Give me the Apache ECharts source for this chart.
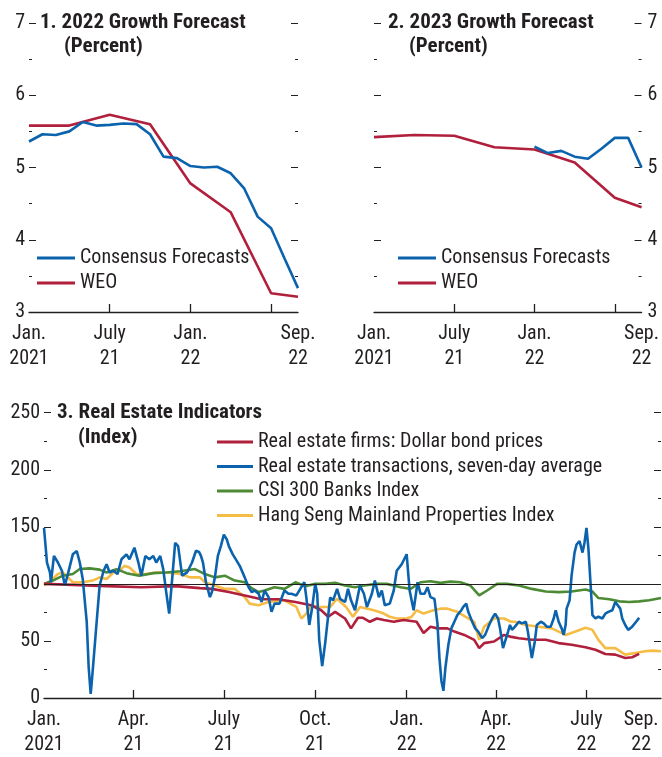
<!DOCTYPE html>
<html>
<head>
<meta charset="utf-8">
<script src="https://cdn.jsdelivr.net/npm/echarts@6/dist/echarts.min.js"></script>
<style>
  html, body { margin: 0; padding: 0; background: #fff; }
  #main { width: 662px; height: 757px; }
</style>
</head>
<body>
<div id="main"></div>
<script>
// panels 1-2: monthly, Jan 2021 (0) .. Sep 2022 (20)
const cons22 = [5.36, 5.46, 5.45, 5.50, 5.63, 5.58, 5.59, 5.61, 5.60, 5.46, 5.15, 5.13, 5.02, 5.00, 5.01, 4.92, 4.71, 4.32, 4.16, 3.74, 3.33]
const weo22 = [5.58, null, null, 5.58, null, null, 5.73, null, null, 5.60, null, null, 4.78, null, null, 4.38, null, null, 3.26, null, 3.21]
const cons23 = [null, null, null, null, null, null, null, null, null, null, null, null, 5.29, 5.20, 5.23, 5.15, 5.12, 5.26, 5.41, 5.41, 5.00]
const weo23 = [5.42, null, null, 5.45, null, null, 5.44, null, null, 5.28, null, null, 5.25, null, null, 5.07, null, null, 4.58, null, 4.45]
const growthLabelPos = [0, 6, 12, 20]
const growthLabelText = ['Jan.\n2021', 'July\n21', 'Jan.\n22', 'Sep.\n22']
const growthTickPos = [6, 12, 18]

// panel 3: days since 1 Jan 2021
const redDays = [0, 29, 63, 98, 132, 157, 169, 186, 202, 219, 236, 253, 269, 279, 286, 293, 303, 309, 316, 321, 328, 335, 342, 352, 362, 375, 382, 389, 396, 406, 413, 423, 433, 438, 443, 453, 463, 469, 478, 491, 505, 518, 531, 545, 555, 565, 575, 585, 592, 599]
const redVals = [100, 99.1, 98, 97.1, 98, 96.3, 95.6, 92.8, 89.9, 86.5, 86.5, 84.1, 81.3, 76.9, 71.2, 75.5, 69.7, 61, 70.3, 70.3, 66.8, 69.7, 68.3, 66.8, 68.3, 66.8, 57, 62.5, 61, 61, 58.2, 55.3, 51, 43.7, 48.1, 49.5, 55.3, 53.8, 52.4, 51, 51, 48.1, 46.7, 44.4, 42.3, 38.6, 38, 35.1, 35.7, 38.6]

const blueDays = [0, 1, 3, 6, 7, 10, 14, 18, 21, 24, 29, 33, 36, 39, 43, 45, 47, 49, 53, 56, 60, 63, 66, 70, 74, 78, 83, 86, 91, 95, 98, 102, 106, 110, 113, 117, 120, 123, 126, 129, 132, 135, 139, 144, 149, 153, 156, 158, 160, 163, 165, 167, 169, 172, 175, 178, 181, 184, 186, 190, 194, 197,
  199, 202, 206, 209, 212, 216, 219, 222, 226, 229, 232, 237, 242, 246, 249, 254, 259, 262, 264, 267, 270, 273, 275, 277, 280, 283, 288, 291, 295, 298, 303, 306, 309, 313, 318, 322, 325, 330, 333, 337, 340, 343, 348, 352, 355, 360, 365, 368, 372, 376, 379, 383, 386, 389, 393, 396, 398, 400, 402,
  404, 407, 410, 413, 416, 420, 422, 425, 427, 431, 434, 437, 441, 444, 448, 451, 454, 457, 459, 462, 464, 467, 469, 471, 474, 478, 481, 485, 487, 490, 491, 494, 496, 500, 503, 506, 510, 513, 515, 518, 521, 523, 525, 526, 529, 531, 534, 536, 539, 542, 544, 546, 548, 550, 552, 555, 558, 562, 565, 568, 572, 575, 577, 580, 582, 585, 588, 592, 596, 599]
const blueVals = [149, 139, 118.7, 110, 101.4, 124.5, 118.7, 111.5, 98.6, 108.6, 125.9, 128.8, 118.7, 104.3, 66.8, 26.5, 3.5, 23.6, 66.8, 98.6, 111.5, 117.2, 110, 111.5, 108.6, 121.6, 125.9, 121.6, 131.7, 118.7, 107.2, 124.5, 121.6, 124.5, 118.7, 124.5, 112.9, 92.8, 74, 104.3, 136, 133.1, 107.2, 110, 118.7, 129, 128, 124.5, 118.7, 101.4, 100, 88.4, 92.8, 105.7, 124.5, 133.1, 143.2, 138.9, 133.1, 125.9, 120.2, 115.8,
  114.4, 105.7, 97, 92.8, 94.2, 91.3, 84.1, 94.2, 88.4, 75.5, 82.7, 82.7, 94.2, 91.3, 91.3, 89.9, 97.1, 101.4, 88.4, 64, 79.8, 100, 91.3, 51, 27.9, 48.1, 88, 85.6, 95.6, 86.9, 84.1, 95.6, 85.6, 76.9, 98.6, 91.3, 79.8, 91.3, 102.9, 88.4, 94.2, 81.3, 82.7, 94.2, 111.5, 117.2, 126, 94.2, 76.9, 101.4, 91.3, 91.3, 97.1, 88.4, 86.9, 65.4, 35, 15, 6.3,
  26.5, 46.7, 61, 66.8, 72.6, 76.9, 79.8, 82.7, 75.5, 66.8, 61, 58.2, 52.4, 55.3, 64, 69.7, 74, 69.7, 61, 43.7, 44, 58, 64, 59.7, 62.5, 66.8, 65.4, 66.8, 58.2, 40.9, 35.1, 49.5, 64, 66.8, 65.4, 62.5, 62.5, 69.7, 76.9, 66.8, 61, 55.3, 64, 78.3, 85.6, 107.2, 127.4, 134.5, 137.5, 127.4, 136, 149, 130.2, 101.4, 72.6, 69.7, 71.2, 69.7, 74, 75.5, 76.9, 84.1, 85.6, 78.3, 69.7, 64, 59.7, 62.5, 66.8, 70.3]

const greenDays = [0, 9, 19, 29, 36, 46, 56, 63, 73, 83, 96, 110, 123, 137, 152, 162, 172, 182, 192, 202, 209, 216, 222, 232, 242, 253, 263, 273, 283, 293, 303, 313, 322, 335, 345, 359, 369, 379, 389, 399, 409, 419, 429, 438, 446, 456, 466, 478, 491, 505, 518, 531, 545, 552, 558, 569, 579, 589, 599, 609, 621]
const greenVals = [100, 102.9, 107.2, 108.6, 113, 113.6, 112.5, 110, 112.9, 109.4, 107.2, 109.4, 110, 111, 113, 108.6, 105.7, 107.2, 102.9, 101.4, 96.2, 92.8, 94.2, 97.1, 95.6, 101.4, 98, 100, 100, 100.9, 98.6, 97.1, 98.6, 100, 100, 97.1, 95.6, 101.4, 102.3, 100.9, 102, 101.4, 98.6, 89.9, 94.2, 100, 100, 98.6, 95.6, 93.3, 92.8, 93.3, 95, 93.3, 87.6, 86.5, 84.7, 84.1, 84.7, 85.6, 87.6]

const yellowDays = [0, 2, 7, 14, 19, 24, 29, 39, 49, 56, 63, 70, 76, 81, 86, 93, 103, 113, 123, 137, 147, 157, 162, 172, 182, 192, 202, 207, 216, 226, 242, 254, 259, 264, 269, 276, 288, 295, 304, 311, 318, 332, 342, 348, 355, 365, 370, 375, 382, 392, 399, 406, 416, 427, 433, 438, 443, 453, 463, 470, 474, 485, 498, 511, 525, 535, 545, 552, 558, 565, 575, 585, 595, 605, 612, 621]
const yellowVals = [98.6, 97.1, 102.9, 108.6, 110, 105.7, 101.4, 101.4, 102.9, 105.7, 104.3, 110, 111.5, 115.8, 114.4, 108.6, 108.6, 110, 110, 108.6, 105.7, 105.7, 101.4, 98.6, 95.6, 95.6, 88.4, 82.7, 81.3, 84.1, 85.6, 79.8, 69.7, 74, 81.3, 79.8, 79.8, 87, 79.8, 71.2, 79.8, 76.9, 74, 71.2, 69.7, 69.7, 71.2, 76.9, 74, 76.9, 78.3, 78.3, 75.5, 69.7, 66.8, 51, 62.5, 69.7, 69.7, 66.8, 66.8, 64, 62.5, 61, 55.3, 58.2, 61.6, 59.7, 51, 43.7, 43.7, 38, 39.5, 40.9, 41.5, 40.9]

const reLabelPos = [0, 90, 181, 273, 365, 455, 546, 601]
const reLabelText = ['Jan.\n2021', 'Apr.\n21', 'July\n21', 'Oct.\n21', 'Jan.\n22', 'Apr.\n22', 'July\n22', 'Sep.\n22']
const reTickPos = [90, 181, 273, 365, 455, 546]

const FONT = "'Roboto Condensed', 'Liberation Sans', sans-serif"
const INK = '#231f20'
const BLUE = '#0b63ad'
const RED = '#b01f3b'
const GREEN = '#4d8a34'
const YELLOW = '#f5bd45'

var myChart = echarts.init(document.getElementById('main'))

function pairs(xs, ys) {
  return ys.map((v, i) => [xs ? xs[i] : i, v])
}

function xAxisCfg(gridIndex, max, tickPos, labelPos, labelText) {
  return {
    type: 'value', gridIndex: gridIndex, min: 0, max: max,
    splitLine: { show: false },
    axisLine: { show: true, onZero: false, lineStyle: { color: INK, width: 1.3 } },
    axisTick: { show: true, inside: true, length: 8, customValues: tickPos, lineStyle: { color: INK, width: 1.3 } },
    axisLabel: {
      customValues: labelPos, margin: 9,
      fontFamily: FONT, fontSize: 20, lineHeight: 25, color: INK,
      formatter: v => labelText[labelPos.indexOf(v)] || ''
    }
  }
}

function yAxisCfg(gridIndex, pos, max, interval, showLabel) {
  return {
    type: 'value', gridIndex: gridIndex, position: pos,
    min: max === 7 ? 3 : 0, max: max, interval: interval,
    splitLine: { show: false },
    axisLine: { show: false },
    axisTick: { show: true, inside: true, length: 7, lineStyle: { color: INK, width: 1 } },
    minorTick: { show: true, splitNumber: 2, length: 3, lineStyle: { color: INK, width: 1 } },
    axisLabel: { show: showLabel, margin: pos === 'left' ? 4 : 6, fontFamily: FONT, fontSize: 20, color: INK }
  }
}

function lineSeries(name, x, y, data, color, extra) {
  return Object.assign({
    name: name, type: 'line', xAxisIndex: x, yAxisIndex: y,
    data: data, symbol: 'none', connectNulls: true,
    lineStyle: { color: color, width: 2.6 }, itemStyle: { color: color },
    silent: true, animation: false
  }, extra || {})
}

const titleStyle = { fontFamily: FONT, fontSize: 21, fontWeight: 'bold', color: INK, lineHeight: 22 }
const legendBase = {
  orient: 'vertical', icon: 'rect', itemWidth: 38, itemHeight: 3, itemGap: 3,
  selectedMode: false, padding: 0,
  textStyle: { fontFamily: FONT, fontSize: 20, lineHeight: 22, color: INK }
}

const option = {
  animation: false,
  title: [
    { text: '1. 2022 Growth Forecast', left: 40, top: 12, padding: 0, textStyle: titleStyle },
    { text: '(Percent)', left: 64, top: 36, padding: 0, textStyle: titleStyle },
    { text: '2. 2023 Growth Forecast', left: 388, top: 12, padding: 0, textStyle: titleStyle },
    { text: '(Percent)', left: 409, top: 36, padding: 0, textStyle: titleStyle },
    { text: '3. Real Estate Indicators', left: 57, top: 402, padding: 0, textStyle: titleStyle },
    { text: '(Index)', left: 78, top: 427, padding: 0, textStyle: titleStyle }
  ],
  legend: [
    Object.assign({ left: 37, top: 247, data: ['Consensus Forecasts', 'WEO'] }, legendBase),
    Object.assign({ left: 398, top: 247, data: ['Consensus Forecasts', 'WEO'] }, legendBase),
    Object.assign({}, legendBase, {
      left: 217, top: 431, itemWidth: 36, itemGap: 2.5,
      data: ['Real estate firms: Dollar bond prices', 'Real estate transactions, seven-day average',
        'CSI 300 Banks Index', 'Hang Seng Mainland Properties Index']
    })
  ],
  grid: [
    { left: 29, top: 23, width: 269, height: 289 },
    { left: 374, top: 23, width: 269, height: 289 },
    { left: 44, top: 412.7, width: 617, height: 289.6 }
  ],
  xAxis: [
    xAxisCfg(0, 20, growthTickPos, growthLabelPos, growthLabelText),
    xAxisCfg(1, 20, growthTickPos, growthLabelPos, growthLabelText),
    xAxisCfg(2, 621, reTickPos, reLabelPos, reLabelText)
  ],
  yAxis: [
    yAxisCfg(0, 'left', 7, 1, true),
    yAxisCfg(0, 'right', 7, 1, false),
    yAxisCfg(1, 'left', 7, 1, false),
    yAxisCfg(1, 'right', 7, 1, true),
    yAxisCfg(2, 'left', 250, 50, true),
    yAxisCfg(2, 'right', 250, 50, false)
  ],
  series: [
    lineSeries('WEO', 0, 0, pairs(null, weo22), RED),
    lineSeries('Consensus Forecasts', 0, 0, pairs(null, cons22), BLUE),
    lineSeries('WEO', 1, 3, pairs(null, weo23), RED),
    lineSeries('Consensus Forecasts', 1, 3, pairs(null, cons23), BLUE),
    lineSeries('Hang Seng Mainland Properties Index', 2, 4, pairs(yellowDays, yellowVals), YELLOW, {
      markLine: {
        silent: true, symbol: 'none', label: { show: false },
        lineStyle: { color: INK, width: 1, type: 'solid' },
        data: [{ yAxis: 100 }]
      }
    }),
    lineSeries('CSI 300 Banks Index', 2, 4, pairs(greenDays, greenVals), GREEN),
    lineSeries('Real estate firms: Dollar bond prices', 2, 4, pairs(redDays, redVals), RED),
    lineSeries('Real estate transactions, seven-day average', 2, 4, pairs(blueDays, blueVals), BLUE)
  ]
}

myChart.setOption(option)
</script>
</body>
</html>
